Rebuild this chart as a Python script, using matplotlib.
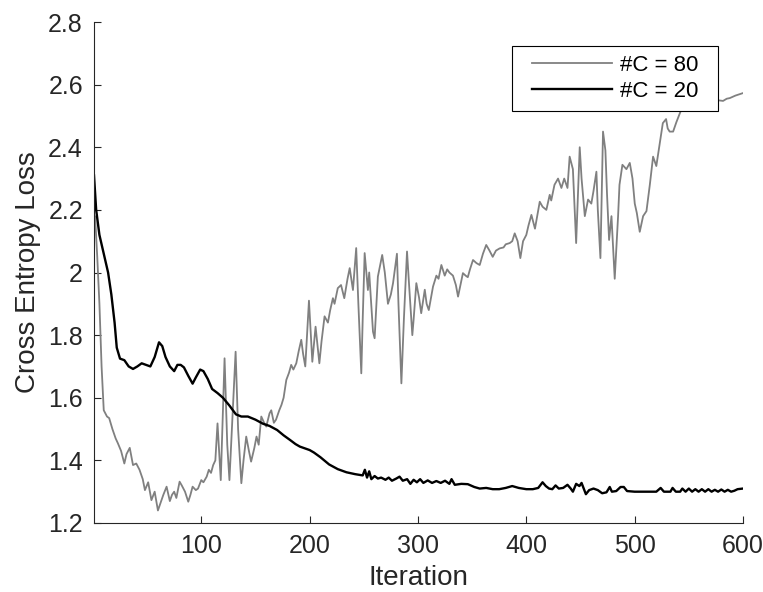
import matplotlib
matplotlib.use("Agg")
import matplotlib.pyplot as plt
from matplotlib.path import Path

plt.rcParams['font.family'] = ['Liberation Sans', 'DejaVu Sans']

# ---- data: #C = 80 (gray) ----
iter_80 = [1, 2, 4, 6, 8, 10, 13, 15, 18, 21, 23, 26, 29, 31, 34, 37, 40, 43, 46, 48,
           51, 54, 57, 60, 63, 65, 68, 71, 73, 75, 77, 80, 82, 85, 88, 90, 92, 95, 97, 100,
           102, 105, 107, 109, 111, 113, 115, 118, 121.5, 124, 126, 129, 131.7, 134, 137, 139, 141.5, 144, 146, 149,
           151, 153, 155.4, 158, 160, 163, 164.6, 167, 169, 172, 174, 176, 178.5, 181, 183, 185, 187.7, 190, 192.3, 194,
           196, 199.4, 202.5, 205.5, 209, 211, 213.8, 216.9, 219, 221.5, 223, 226, 229, 232, 235, 237, 240, 243, 245, 247.7,
           249, 250.8, 253.8, 255, 258.5, 260, 263, 267, 269.4, 272.3, 275, 277, 280.6, 282, 284.7, 287, 289.9, 292, 294.8, 296,
           298.5, 301, 303, 306.3, 308, 310, 313.9, 317, 319, 321.6, 324.7, 327, 329, 332.3, 335, 337, 341.5, 344, 346, 348,
           350.8, 354, 357, 360, 363, 366, 369, 372, 375.4, 379, 381, 384.7, 387, 389.3, 392, 394.5, 397, 400, 402, 404.7,
           408, 410, 412.4, 415, 418.5, 421.6, 423, 426, 429.3, 432.4, 435, 438, 440, 443, 446, 449.3, 451, 454, 457, 460,
           462, 464.7, 466, 468.4, 470.8, 473, 474.5, 476.4, 478.6, 481.6, 484.7, 486, 488.7, 492.4, 495.5, 498, 500.1, 502, 504.7, 507.8,
           510.9, 514, 517, 520, 523, 526, 529, 530.5, 532.3, 535.5, 538.5, 543, 550, 560, 570, 577, 581.6, 585, 587.8, 593,
           600]
loss_80 = [2.16, 2.18, 2.05, 1.90, 1.70, 1.56, 1.54, 1.535, 1.50, 1.47, 1.455, 1.43, 1.39, 1.42, 1.44, 1.385, 1.39, 1.37, 1.34, 1.305,
           1.33, 1.273, 1.30, 1.24, 1.27, 1.29, 1.316, 1.27, 1.29, 1.30, 1.28, 1.332, 1.32, 1.30, 1.268, 1.29, 1.316, 1.305, 1.31, 1.337,
           1.33, 1.348, 1.37, 1.36, 1.385, 1.40, 1.518, 1.337, 1.726, 1.45, 1.337, 1.55, 1.747, 1.50, 1.327, 1.40, 1.476, 1.43, 1.396, 1.44,
           1.476, 1.45, 1.54, 1.52, 1.508, 1.55, 1.56, 1.52, 1.53, 1.56, 1.577, 1.60, 1.657, 1.68, 1.705, 1.69, 1.71, 1.75, 1.785, 1.74,
           1.70, 1.91, 1.715, 1.827, 1.71, 1.78, 1.86, 1.84, 1.88, 1.918, 1.90, 1.95, 1.96, 1.918, 1.98, 2.014, 1.944, 2.078, 1.90, 1.678,
           1.85, 2.062, 1.944, 2.0, 1.811, 1.79, 1.987, 2.056, 2.0, 1.90, 1.93, 1.966, 2.06, 1.90, 1.646, 1.85, 2.067, 1.95, 1.80, 1.85,
           1.966, 1.92, 1.87, 1.945, 1.90, 1.88, 1.955, 1.99, 1.98, 2.024, 1.99, 2.01, 2.0, 1.99, 1.96, 1.923, 1.998, 1.99, 1.985, 2.01,
           2.04, 2.03, 2.024, 2.06, 2.088, 2.07, 2.05, 2.07, 2.077, 2.08, 2.09, 2.094, 2.10, 2.125, 2.10, 2.046, 2.10, 2.12, 2.15, 2.184,
           2.14, 2.18, 2.226, 2.21, 2.20, 2.248, 2.23, 2.28, 2.30, 2.27, 2.30, 2.27, 2.37, 2.33, 2.094, 2.40, 2.30, 2.18, 2.233, 2.22,
           2.26, 2.322, 2.20, 2.046, 2.45, 2.39, 2.25, 2.104, 2.18, 1.98, 2.18, 2.28, 2.344, 2.33, 2.35, 2.30, 2.22, 2.19, 2.13, 2.18,
           2.196, 2.28, 2.37, 2.34, 2.408, 2.477, 2.49, 2.46, 2.45, 2.45, 2.48, 2.52, 2.535, 2.545, 2.55, 2.55, 2.548, 2.555, 2.557, 2.565,
           2.573]

# ---- data: #C = 20 (black) ----
iter_20 = [1, 3, 6, 10, 14, 17, 20, 22, 25, 29, 33, 37, 41, 45, 49, 53, 57, 61, 64, 67,
           71, 75, 78, 81, 84, 88, 92, 95, 99, 102, 106, 110, 115, 120, 126, 132, 137, 143, 150, 157,
           163, 170, 176, 182, 187, 191, 196, 200, 204, 210, 218, 226, 234, 242, 249, 251, 253, 255, 257, 260,
           263, 266, 270, 273, 276, 280, 283, 286, 290, 293, 296, 299, 302, 305, 309, 313, 317, 321, 325, 329,
           331, 334, 340, 346, 352, 357, 363, 369, 375, 381, 387, 393, 400, 406, 411, 415, 418, 421, 424, 427,
           430, 434, 438, 441, 443, 446, 449, 451, 453, 455, 458, 462, 466, 470, 474, 477, 479, 483, 487, 490,
           493, 500, 510, 520, 524, 527, 533, 535, 538, 542, 544, 547, 550, 553, 556, 559, 562, 565, 568, 571,
           574, 577, 580, 583, 586, 589, 592, 595, 600]
loss_20 = [2.31, 2.20, 2.12, 2.06, 2.00, 1.93, 1.84, 1.76, 1.725, 1.72, 1.70, 1.692, 1.70, 1.71, 1.705, 1.70, 1.73, 1.777, 1.765, 1.73,
           1.70, 1.685, 1.705, 1.705, 1.697, 1.67, 1.645, 1.665, 1.69, 1.685, 1.66, 1.628, 1.615, 1.60, 1.575, 1.547, 1.54, 1.54, 1.53, 1.517,
           1.51, 1.497, 1.48, 1.465, 1.452, 1.444, 1.438, 1.433, 1.425, 1.41, 1.387, 1.372, 1.362, 1.356, 1.352, 1.37, 1.345, 1.365, 1.34, 1.35,
           1.342, 1.345, 1.338, 1.345, 1.335, 1.342, 1.348, 1.335, 1.34, 1.325, 1.338, 1.33, 1.34, 1.328, 1.336, 1.328, 1.334, 1.328, 1.335, 1.325,
           1.34, 1.322, 1.325, 1.324, 1.315, 1.31, 1.312, 1.308, 1.308, 1.312, 1.318, 1.312, 1.308, 1.308, 1.312, 1.33, 1.318, 1.31, 1.308, 1.32,
           1.31, 1.312, 1.322, 1.31, 1.30, 1.325, 1.318, 1.328, 1.31, 1.292, 1.305, 1.31, 1.305, 1.295, 1.298, 1.315, 1.30, 1.302, 1.315, 1.315,
           1.302, 1.30, 1.30, 1.30, 1.312, 1.30, 1.30, 1.312, 1.30, 1.30, 1.31, 1.30, 1.31, 1.30, 1.308, 1.30, 1.308, 1.30, 1.308, 1.30,
           1.306, 1.30, 1.307, 1.30, 1.306, 1.30, 1.303, 1.308, 1.31]

labels = ['#C = 80', '#C = 20']
x_ticks = [100, 200, 300, 400, 500, 600]
y_ticks = [1.2, 1.4, 1.6, 1.8, 2.0, 2.2, 2.4, 2.6, 2.8]
y_tick_labels = ['1.2', '1.4', '1.6', '1.8', '2', '2.2', '2.4', '2.6', '2.8']

fig = plt.figure(figsize=(7.63, 5.92), dpi=100)
ax = fig.add_axes([94/763, 1 - 523/592, (743 - 94)/763, (523 - 22)/592])

ax.plot(iter_80, loss_80, color='#808080', lw=1.3, label=labels[0])
ax.plot(iter_20, loss_20, color='black', lw=1.7, label=labels[1])

ax.set_xlim(1, 600)
ax.set_ylim(1.2, 2.8)
ax.set_xticks(x_ticks)
ax.set_yticks(y_ticks)
ax.set_yticklabels(y_tick_labels)

axis_col = '#262626'
for s in ['top', 'right']:
    ax.spines[s].set_visible(False)
for s in ['left', 'bottom']:
    ax.spines[s].set_color(axis_col)
    ax.spines[s].set_linewidth(0.8)
ax.tick_params(direction='in', length=5, width=0.8, colors=axis_col, labelsize=18, pad=8)

ax.set_xlabel('Iteration', fontsize=20, color=axis_col, labelpad=5)
ax.set_ylabel('Cross Entropy Loss', fontsize=20, color=axis_col, labelpad=5)

# legend frame with extra horizontal padding (MATLAB-like box)
extra_px = 11.0


def wide_box(x0, y0, width, height, mutation_size):
    xa, xb = x0 - extra_px, x0 + width + extra_px
    ya, yb = y0, y0 + height
    return Path([(xa, ya), (xb, ya), (xb, yb), (xa, yb), (xa, ya)],
                [Path.MOVETO, Path.LINETO, Path.LINETO, Path.LINETO, Path.CLOSEPOLY])


leg = ax.legend(loc='upper right', bbox_to_anchor=((718 - extra_px - 94)/649, (523 - 46)/501),
                borderaxespad=0, fontsize=16, frameon=True, fancybox=False,
                edgecolor='black', framealpha=1, handlelength=3.6, handletextpad=0.36,
                labelspacing=0.24, borderpad=0.39)
leg.get_frame().set_linewidth(0.8)
leg.get_frame().set_boxstyle(wide_box)

fig.savefig('out.png', dpi=100)
